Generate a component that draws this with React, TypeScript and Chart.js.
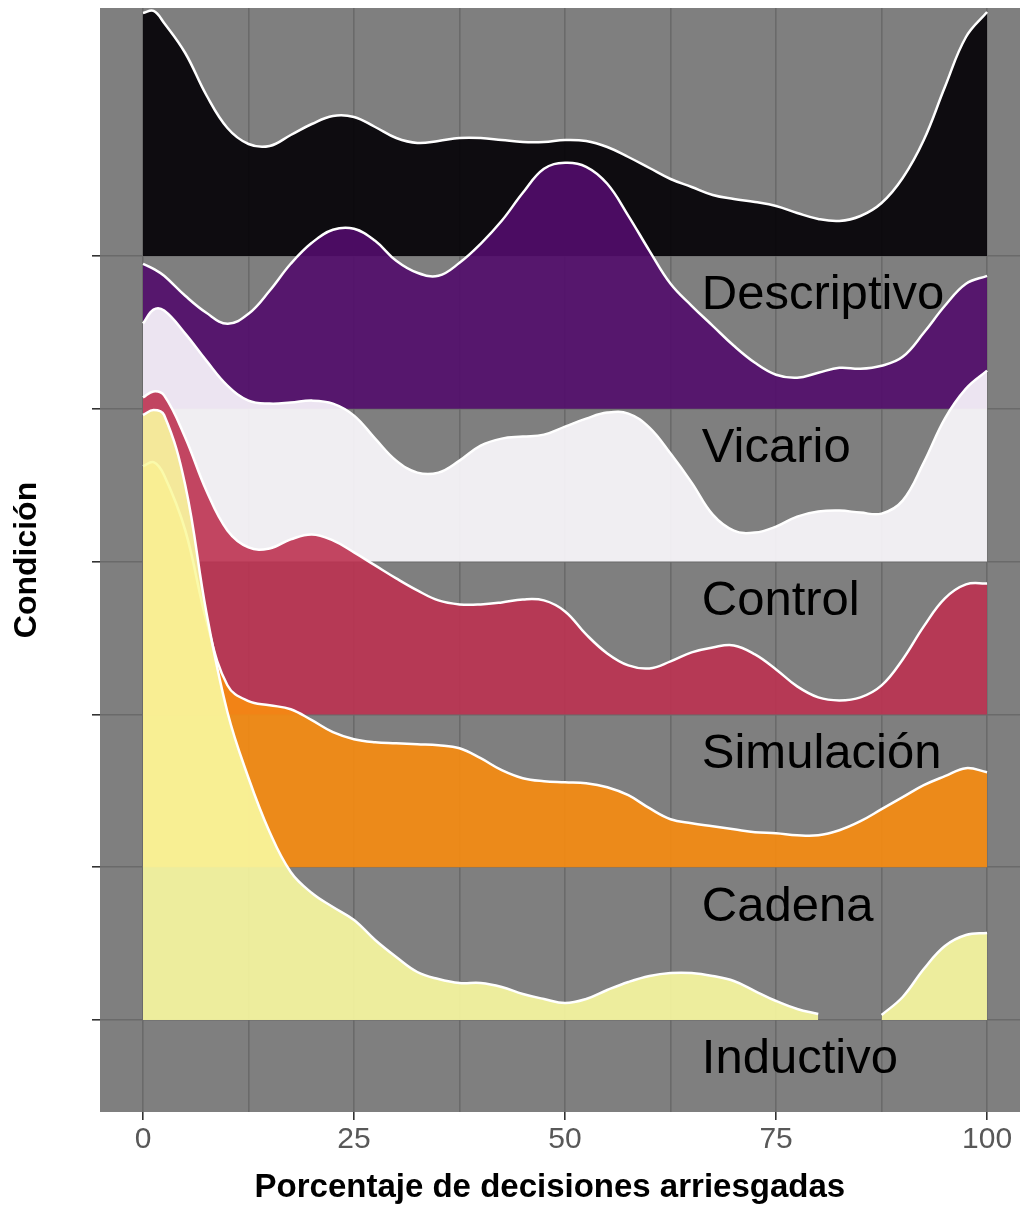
import React, { useEffect, useRef } from 'react';
import { Chart, registerables } from 'chart.js';

Chart.register(...registerables);

// ---- Data ----
const X_VALUES = [0, 1.25, 2.5, 5, 7.5, 10, 12.5, 15, 17.5, 20, 22.5, 25, 27.5, 30, 32.5, 35, 37.5, 40, 42.5, 45, 47.5, 50, 52.5, 55, 57.5, 60, 62.5, 65, 67.5, 70, 72.5, 75, 77.5, 80, 82.5, 85, 87.5, 90, 92.5, 95, 97.5, 100];

const CONDITION_LABELS = ['Descriptivo', 'Vicario', 'Control', 'Simulación', 'Cadena', 'Inductivo'];
const RIDGE_BASELINES = [6, 5, 4, 3, 2, 1];

// relative density heights (ridge units x 152.8)
const RIDGE_BLACK = [243, 245, 233, 203, 161, 128, 112, 110, 121, 132, 140, 139, 129, 118, 113, 115, 118, 118, 116, 114, 114, 116, 115, 109, 99, 88, 77, 69, 61, 57, 54, 50, 43, 37, 35, 40, 53, 78, 116, 169, 219, 244];
const RIDGE_PURPLE = [145, 140, 133, 113, 96, 85, 95, 118, 145, 166, 179, 180, 168, 148, 136, 133, 146, 165, 188, 216, 240, 246, 242, 225, 193, 158, 125, 103, 83, 63, 46, 34, 31, 36, 41, 40, 43, 52, 76, 103, 125, 133];
const RIDGE_WHITE = [238, 252, 251, 228, 201, 176, 161, 158, 159, 161, 158, 146, 123, 101, 89, 89, 101, 116, 123, 125, 127, 135, 143, 149, 148, 134, 108, 79, 47, 31, 29, 35, 45, 50, 51, 49, 48, 61, 99, 143, 173, 191];
const RIDGE_RED = [317, 323, 319, 277, 224, 184, 167, 166, 175, 180, 174, 162, 149, 136, 124, 114, 110, 110, 112, 115, 114, 103, 80, 61, 49, 46, 53, 62, 67, 69, 60, 45, 28, 17, 14, 17, 29, 55, 88, 116, 130, 131];
const RIDGE_ORANGE = [401, 405, 392, 337, 247, 182, 166, 162, 158, 147, 135, 128, 125, 124, 123, 122, 119, 109, 97, 89, 86, 85, 84, 80, 72, 59, 48, 44, 41, 38, 35, 34, 32, 32, 37, 46, 58, 70, 82, 91, 99, 95];
const RIDGE_YELLOW: (number | null)[] = [605, 610, 605, 535, 408, 308, 242, 188, 148, 127, 113, 100, 80, 63, 48, 41, 37, 37, 33, 26, 21, 17, 21, 30, 38, 44, 47, 47, 44, 39, 29, 19, 11, 6, null, null, 5, 23, 51, 74, 85, 87];

const RIDGES = [RIDGE_BLACK, RIDGE_PURPLE, RIDGE_WHITE, RIDGE_RED, RIDGE_ORANGE, RIDGE_YELLOW];
const RIDGE_FILLS = [
  'rgba(2,0,4,0.9)',
  'rgba(82,12,108,0.9)',
  'rgba(253,251,255,0.9)',
  'rgba(188,50,81,0.9)',
  'rgba(248,140,15,0.9)',
  'rgba(250,250,161,0.9)',
];
const DENSITY_UNIT = 152.8;

const X_TICKS = [0, 12.5, 25, 37.5, 50, 62.5, 75, 87.5, 100];
const X_LABELED_TICKS = [0, 25, 50, 75, 100];
const X_TITLE = 'Porcentaje de decisiones arriesgadas';
const Y_TITLE = 'Condición';

const FONT = '"Liberation Sans", Arial, Helvetica, sans-serif';

export default function App() {
  const canvasRef = useRef<HTMLCanvasElement | null>(null);

  useEffect(() => {
    const canvas = canvasRef.current;
    if (!canvas) return;

    const datasets: any[] = RIDGES.map((ridge, i) => {
      const base = RIDGE_BASELINES[i];
      return {
        label: CONDITION_LABELS[i],
        data: X_VALUES.map((x, j) => ({ x, y: ridge[j] === null ? null : base + (ridge[j] as number) / DENSITY_UNIT })),
        borderColor: '#ffffff',
        borderWidth: 2.5,
        backgroundColor: RIDGE_FILLS[i],
        fill: { value: base },
        pointRadius: 0,
        tension: 0.4,
        spanGaps: false,
      };
    });
    // first dataset is drawn on top -> bottom ridge (yellow) first
    datasets.reverse();

    const overlay = {
      id: 'overlay',
      beforeDraw(chart: any) {
        const { ctx, chartArea } = chart;
        ctx.save();
        ctx.fillStyle = '#7f7f7f';
        ctx.fillRect(chartArea.left, chartArea.top, chartArea.right - chartArea.left, chartArea.bottom - chartArea.top);
        ctx.restore();
      },
      afterDatasetsDraw(chart: any) {
        const { ctx } = chart;
        const xs = chart.scales.x;
        const ys = chart.scales.y;
        ctx.save();
        ctx.fillStyle = '#000000';
        ctx.font = `49px ${FONT}`;
        ctx.textAlign = 'left';
        ctx.textBaseline = 'alphabetic';
        CONDITION_LABELS.forEach((lab, i) => {
          ctx.fillText(lab, xs.getPixelForValue(66.2), ys.getPixelForValue(RIDGE_BASELINES[i] - 0.35));
        });
        ctx.restore();
      },
      afterDraw(chart: any) {
        const { ctx } = chart;
        const xs = chart.scales.x;
        ctx.save();
        ctx.fillStyle = '#000000';
        ctx.font = `bold 33px ${FONT}`;
        ctx.textAlign = 'center';
        ctx.textBaseline = 'middle';
        ctx.fillText(X_TITLE, xs.getPixelForValue(48.2), 1188);
        ctx.restore();
      },
    };

    const chart = new Chart(canvas, {
      type: 'line',
      data: { datasets },
      options: {
        responsive: false,
        animation: false,
        devicePixelRatio: 1,
        layout: { padding: { top: 8, left: 0, right: 0, bottom: 0 } },
        plugins: {
          legend: { display: false },
          tooltip: { enabled: false },
          filler: { propagate: false },
        },
        scales: {
          x: {
            type: 'linear',
            min: -5.095,
            max: 103.9,
            afterBuildTicks: (s: any) => {
              s.ticks = X_TICKS.map((v) => ({ value: v }));
            },
            afterFit: (s: any) => {
              s.height = 95;
            },
            ticks: {
              autoSkip: false,
              maxRotation: 0,
              minRotation: 0,
              padding: 2,
              color: '#585858',
              font: { family: FONT, size: 30 },
              callback: (v: any) => (X_LABELED_TICKS.includes(Number(v)) ? String(v) : ''),
            },
            grid: {
              color: '#6a6a6a',
              lineWidth: 1.6,
              drawTicks: true,
              tickLength: 8,
              tickWidth: 1.6,
              tickColor: (c: any) => (c.tick && X_LABELED_TICKS.includes(c.tick.value) ? '#333333' : 'rgba(0,0,0,0)'),
            },
            border: { display: false },
          },
          y: {
            type: 'linear',
            min: 0.398,
            max: 7.623,
            afterBuildTicks: (s: any) => {
              s.ticks = [...RIDGE_BASELINES].reverse().map((v) => ({ value: v }));
            },
            afterFit: (s: any) => {
              s.width = 100;
            },
            ticks: { display: false },
            grid: {
              color: '#6a6a6a',
              lineWidth: 1.6,
              drawTicks: true,
              tickLength: 8,
              tickWidth: 1.6,
              tickColor: '#333333',
            },
            border: { display: false },
            title: {
              display: true,
              text: Y_TITLE,
              color: '#000000',
              font: { family: FONT, size: 32, weight: 'bold', lineHeight: 1.2 },
              padding: { top: 8, bottom: 0 },
            },
          },
        },
      } as any,
      plugins: [overlay],
    });

    return () => {
      chart.destroy();
    };
  }, []);

  return (
    <div style={{ position: 'absolute', left: 0, top: 0, width: 1020, height: 1207 }}>
      <canvas ref={canvasRef} width={1020} height={1207} style={{ display: 'block', width: 1020, height: 1207 }} />
    </div>
  );
}
